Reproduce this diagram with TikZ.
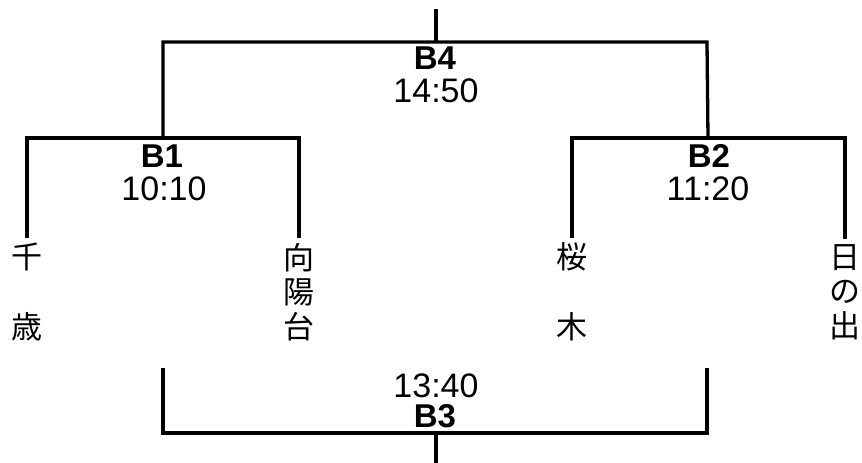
\documentclass[tikz,border=0pt]{standalone}
\usepackage{fontspec}
\setmainfont{Liberation Sans}
\newfontfamily\jpfont{Noto Sans CJK JP}
\begin{document}
\begin{tikzpicture}[x=1pt,y=-1pt,
  bk/.style={line width=3.3pt, line join=miter, line cap=butt},
  matchlbl/.style={anchor=base, inner sep=0pt, font=\fontsize{33}{33}\selectfont\bfseries},
  timelbl/.style={anchor=base, inner sep=0pt, font=\fontsize{34}{34}\selectfont},
  teamwide/.style={anchor=center, inner sep=0pt, outer sep=5pt, align=center, font=\jpfont\fontsize{31}{70}\selectfont},
  teamtight/.style={anchor=center, inner sep=0pt, outer sep=5pt, align=center, font=\jpfont\fontsize{31}{34.5}\selectfont}]
\useasboundingbox (0,0) rectangle (862,463);

% labels
\node[matchlbl] (b4) at (435,69) {B4};
\node[timelbl] (t4) at (436,102) {14:50};
\node[matchlbl] (b1) at (162,167) {B1};
\node[timelbl] (t1) at (164,200) {10:10};
\node[matchlbl] (b2) at (709,167) {B2};
\node[timelbl] (t2) at (708,200) {11:20};
\node[timelbl] (t3) at (436,397) {13:40};
\node[matchlbl] (b3) at (435,427) {B3};

% teams
\node[teamwide] (chitose) at (27,292) {千\\歳};
\node[teamtight] (kouyoudai) at (299,292) {向\\陽\\台};
\node[teamwide] (sakuragi) at (572,292) {桜\\木};
\node[teamtight] (hinode) at (845,292) {日\\の\\出};

% coordinates
\coordinate (top) at (436,9);
\coordinate (b4l) at (163,42);
\coordinate (b4r) at (707,42);
\coordinate (b1mid) at (163,138);
\coordinate (b2mid) at (708,138);
\coordinate (b3l) at (163,368);
\coordinate (b3r) at (707,368);
\coordinate (b3base) at (436,433);
\coordinate (bottom) at (436,463);

% final bracket
\draw[bk] (top) -- (top |- b4l);
\draw[bk] (b1mid) -- (b4l) -- (b4r) -- (b2mid);
% B1 bracket
\draw[bk] (chitose.north) -- (chitose.north |- b1mid) -- (kouyoudai.north |- b1mid) -- (kouyoudai.north);
% B2 bracket
\draw[bk] (sakuragi.north) -- (sakuragi.north |- b2mid) -- (hinode.north |- b2mid) -- (hinode.north);
% B3 bracket
\draw[bk] (b3l) -- (b3l |- b3base) -- (b3r |- b3base) -- (b3r);
\draw[bk] (b3base) -- (bottom);
\end{tikzpicture}
\end{document}
